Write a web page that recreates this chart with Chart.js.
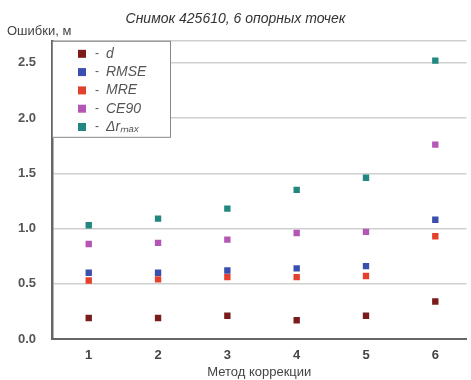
<!DOCTYPE html>
<html>
<head>
<meta charset="utf-8">
<script src="https://cdn.jsdelivr.net/npm/chart.js@4/dist/chart.umd.min.js"></script>
<style>
  body { margin: 0; background: #fff; }
  #wrap { width: 471px; height: 380px; }
</style>
</head>
<body>
<div id="wrap"><canvas id="errChart" width="471" height="380"></canvas></div>
<script>
// методы коррекции по оси X
const methods = [1, 2, 3, 4, 5, 6];
const yTicks = [0, 0.5, 1.0, 1.5, 2.0, 2.5];

// ошибки, м
const dVals    = [0.19, 0.19, 0.21, 0.17, 0.21, 0.34];
const rmseVals = [0.60, 0.60, 0.62, 0.64, 0.66, 1.08];
const mreVals  = [0.53, 0.54, 0.56, 0.56, 0.57, 0.93];
const ce90Vals = [0.86, 0.87, 0.90, 0.96, 0.97, 1.76];
const drVals   = [1.03, 1.09, 1.18, 1.35, 1.46, 2.52];

const seriesNames  = ['d', 'RMSE', 'MRE', 'CE90', 'Δrₘₐₓ'];
const seriesColors = ['#7b1c1c', '#3b4fae', '#e5402b', '#b457b4', '#21877f'];

function toPoints(vals) {
  return vals.map((v, i) => ({ x: methods[i], y: v }));
}

const allVals = [dVals, rmseVals, mreVals, ce90Vals, drVals];
const datasets = allVals.map((vals, i) => ({
  label: seriesNames[i],
  data: toPoints(vals),
  backgroundColor: seriesColors[i],
  borderColor: seriesColors[i],
  pointStyle: 'rect',
  pointRadius: 4.5,
  borderWidth: 0,
  showLine: false
}));

const FONT = '"Liberation Sans", Arial, sans-serif';

// легенда внутри области графика + подпись оси Y
const insideLegend = {
  id: 'insideLegend',
  afterDraw(chart) {
    const ctx = chart.ctx;
    const area = chart.chartArea;
    ctx.save();

    ctx.font = '13px ' + FONT;
    ctx.fillStyle = '#444';
    ctx.textBaseline = 'middle';
    ctx.textAlign = 'left';
    ctx.fillText('Ошибки, м', 7, 31);

    const x0 = area.left, y0 = area.top;
    const boxW = 118, boxH = 96;
    ctx.fillStyle = '#fff';
    ctx.fillRect(x0 + 1, y0 + 1, boxW, boxH);
    ctx.strokeStyle = '#888';
    ctx.lineWidth = 1;
    ctx.strokeRect(x0 + 0.5, y0 + 0.5, boxW, boxH);

    chart.data.datasets.forEach((ds, i) => {
      const cy = y0 + 13 + i * 18.3;
      ctx.fillStyle = ds.backgroundColor;
      ctx.fillRect(x0 + 26, cy - 4, 8, 8);
      ctx.fillStyle = '#555';
      ctx.font = '12px ' + FONT;
      ctx.fillText('-', x0 + 43, cy);
      ctx.font = 'italic 14px ' + FONT;
      ctx.fillText(ds.label, x0 + 54, cy);
    });
    ctx.restore();
  }
};

new Chart('errChart', {
  type: 'scatter',
  data: { datasets: datasets },
  plugins: [insideLegend],
  options: {
    responsive: false,
    animation: false,
    layout: { padding: { top: 4, right: 0, left: 0, bottom: 0 } },
    plugins: {
      legend: { display: false },
      tooltip: { enabled: false },
      title: {
        display: true,
        text: 'Снимок 425610, 6 опорных точек',
        color: '#333',
        font: { family: FONT, size: 14, style: 'italic', weight: 'normal' },
        padding: { top: 7, bottom: 13 }
      }
    },
    scales: {
      x: {
        type: 'linear',
        min: 0.47,
        max: 6.45,
        afterBuildTicks(scale) {
          scale.ticks = methods.map(v => ({ value: v }));
        },
        afterFit(scale) {
          scale.height = 41;
          scale.paddingRight = 0;
        },
        grid: { display: false, drawTicks: false },
        border: { display: true, color: '#666', width: 2 },
        ticks: {
          color: '#444',
          padding: 9,
          font: { family: FONT, size: 13, weight: 'bold' }
        },
        title: {
          display: true,
          text: 'Метод коррекции',
          color: '#444',
          padding: { top: 0, bottom: 0 },
          font: { family: FONT, size: 13 }
        }
      },
      y: {
        min: 0,
        max: 2.7,
        afterBuildTicks(scale) {
          scale.ticks = yTicks.concat([2.7]).map(v => ({ value: v }));
        },
        afterFit(scale) {
          scale.width = 52;
        },
        grid: { color: '#cfcfcf', lineWidth: 1.5, drawTicks: false },
        border: { display: true, color: '#666', width: 2.5 },
        ticks: {
          color: '#555',
          padding: 16,
          callback: v => (v === 2.7 ? '' : v.toFixed(1)),
          font: { family: FONT, size: 13, weight: 'bold' }
        }
      }
    }
  }
});
</script>
</body>
</html>
